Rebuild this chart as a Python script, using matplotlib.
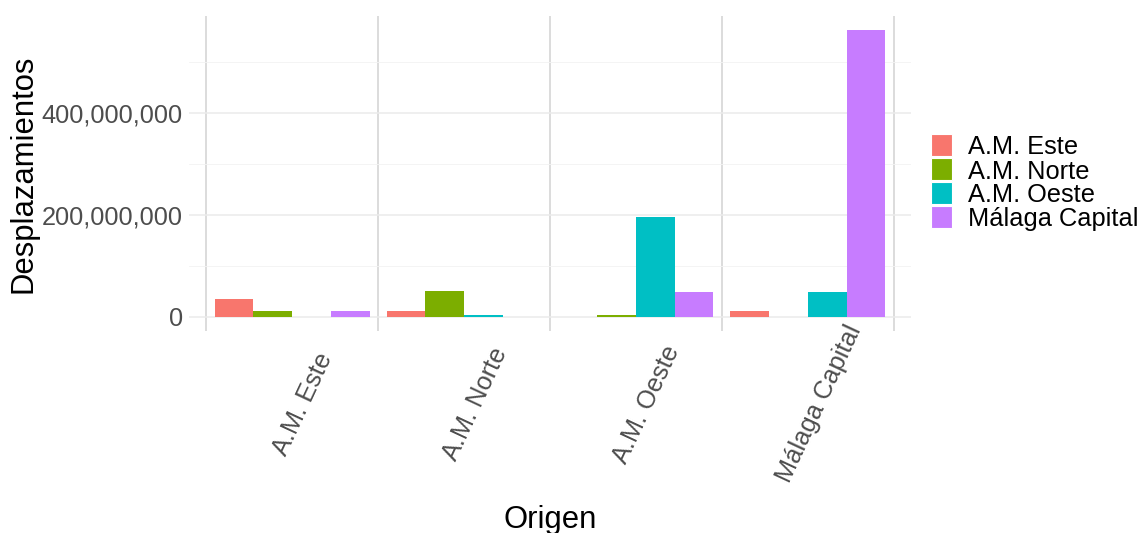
import numpy as np
import matplotlib
matplotlib.use('Agg')
import matplotlib.pyplot as plt
from matplotlib.patches import Rectangle
from matplotlib.ticker import FuncFormatter, MultipleLocator

# data (desplazamientos por origen y destino)
origen = ['A.M. Este', 'A.M. Norte', 'A.M. Oeste', 'Málaga Capital']
destinos = ['A.M. Este', 'A.M. Norte', 'A.M. Oeste', 'Málaga Capital']
dest_am_este = [35e6, 12e6, 0, 12e6]
dest_am_norte = [12e6, 50e6, 2.5e6, 0]
dest_am_oeste = [0, 2.5e6, 196e6, 48e6]
dest_malaga = [12e6, 0, 48e6, 563e6]
series = [dest_am_este, dest_am_norte, dest_am_oeste, dest_malaga]
colores = ['#F8766D', '#7CAE00', '#00BFC4', '#C77CFF']

W, H = 1138, 533
plt.rcParams['font.family'] = ['Liberation Sans', 'DejaVu Sans']
fig = plt.figure(figsize=(W / 100, H / 100), dpi=100)

def px(x, y):
    # pixel (from top-left) -> figure fraction
    return x / W, 1 - y / H

left, right, top, bottom = 189, 911, 16, 331
ax = fig.add_axes([left / W, 1 - bottom / H, (right - left) / W, (bottom - top) / H])

x = np.arange(1, len(origen) + 1)
bw = 0.9 / len(series)
for i, (vals, col) in enumerate(zip(series, colores)):
    ax.bar(x - 0.45 + bw * (i + 0.5), vals, width=bw, color=col, linewidth=0, zorder=3)

ymax = max(max(s) for s in series)
ax.set_xlim(0.4, len(origen) + 0.6)
ax.set_ylim(-0.05 * ymax, 1.05 * ymax)

# grid (ggplot minimal look)
ax.yaxis.set_major_locator(MultipleLocator(200e6))
ax.yaxis.set_minor_locator(MultipleLocator(100e6))
ax.grid(axis='y', which='major', color='#ebebeb', lw=1.1, zorder=0)
ax.grid(axis='y', which='minor', color='#f3f3f3', lw=0.6, zorder=0)
for b in np.arange(0.5, len(origen) + 1, 1):
    ax.axvline(b, color='#dcdcdc', lw=1.4, zorder=1)

for s in ax.spines.values():
    s.set_visible(False)
ax.tick_params(length=0, which='both')
ax.yaxis.set_major_formatter(FuncFormatter(lambda v, p: f'{v:,.0f}'))
ax.tick_params(axis='y', labelsize=18.3, labelcolor='#4d4d4d', pad=4.5)

ax.set_xticks(x)
ax.set_xticklabels(origen, rotation=65, rotation_mode='anchor', ha='center', va='top',
                   fontsize=18.3, color='#4d4d4d')
ax.tick_params(axis='x', pad=49)

ax.set_ylabel('Desplazamientos', fontsize=22.3, color='black')
ax.yaxis.set_label_coords(-0.2078, 0.5)
ax.set_xlabel('Origen', fontsize=22.3, color='black')
ax.xaxis.set_label_coords(0.5, -0.552)

# legend drawn by hand to keep ggplot's tight key spacing
for i, (nombre, col) in enumerate(zip(destinos, colores)):
    cy = 145 + 24 * i
    x0, y0 = px(931, cy + 11)
    fig.add_artist(Rectangle((x0, y0), 21 / W, 22 / H, transform=fig.transFigure,
                             facecolor=col, edgecolor='white', lw=0.8))
    tx, ty = px(968, cy)
    fig.text(tx, ty, nombre, fontsize=18.3, color='black', ha='left', va='center_baseline')

fig.savefig('out.png', dpi=100)
